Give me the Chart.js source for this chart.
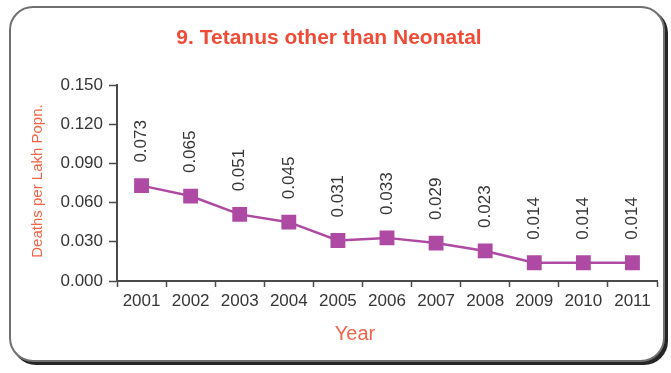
<!DOCTYPE html>
<html>
<head>
<meta charset="utf-8">
<script src="https://cdn.jsdelivr.net/npm/chart.js@4/dist/chart.umd.min.js"></script>
<style>
  html, body { margin: 0; padding: 0; background: #ffffff; }
  #wrap { position: relative; width: 671px; height: 373px; overflow: hidden; }
  #frame {
    position: absolute; left: 9px; top: 6px; width: 652px; height: 352px;
    border: 2px solid #707070; border-radius: 24px;
    box-shadow: 3px 3px 0 #262626;
    background: #ffffff;
  }
  canvas { position: absolute; left: 0; top: 0; }
</style>
</head>
<body>
<div id="wrap">
  <div id="frame"></div>
  <canvas id="c" width="671" height="373"></canvas>
</div>
<script>
// Tetanus (other than neonatal) death rate by year
const years = ['2001','2002','2003','2004','2005','2006','2007','2008','2009','2010','2011'];
const deathRates = [0.073, 0.065, 0.051, 0.045, 0.031, 0.033, 0.029, 0.023, 0.014, 0.014, 0.014];
const yTicks = [0.000, 0.030, 0.060, 0.090, 0.120, 0.150];

const titleText = '9. Tetanus other than Neonatal';
const xTitleText = 'Year';
const yTitleText = 'Deaths per Lakh Popn.';

const FONT = 'Arial, "Liberation Sans", sans-serif';
const titleRed = '#ef4b36';
const axisOrange = '#f26448';
const markColor = '#ae4aa4';
const textColor = '#363636';
const axisColor = '#4a4a4a';

// Chart title, axis titles and the vertical value labels
const annotations = {
  id: 'annotations',
  afterDatasetsDraw(chart) {
    const ctx = chart.ctx;
    const area = chart.chartArea;
    ctx.save();

    // title
    ctx.fillStyle = titleRed;
    ctx.font = 'bold 21px ' + FONT;
    ctx.textAlign = 'center';
    ctx.textBaseline = 'middle';
    ctx.fillText(titleText, 329, 38);

    // x axis title
    ctx.fillStyle = axisOrange;
    ctx.font = '20px ' + FONT;
    ctx.fillText(xTitleText, 355, 334);

    // y axis title
    ctx.save();
    ctx.translate(38, 181);
    ctx.rotate(-Math.PI / 2);
    ctx.font = '15px ' + FONT;
    ctx.fillText(yTitleText, 0, 0);
    ctx.restore();

    // value labels, rotated, above each marker
    const meta = chart.getDatasetMeta(0);
    ctx.fillStyle = textColor;
    ctx.font = '17px ' + FONT;
    ctx.textAlign = 'left';
    meta.data.forEach((pt, i) => {
      ctx.save();
      ctx.translate(pt.x, pt.y - 23);
      ctx.rotate(-Math.PI / 2);
      ctx.fillText(deathRates[i].toFixed(3), 0, 0);
      ctx.restore();
    });

    ctx.restore();
  }
};

new Chart(document.getElementById('c'), {
  type: 'line',
  data: {
    labels: years,
    datasets: [{
      data: deathRates,
      borderColor: markColor,
      backgroundColor: markColor,
      borderWidth: 2.5,
      pointStyle: 'rect',
      pointRadius: 10.5,
      pointHoverRadius: 10.5,
      pointBorderWidth: 0,
      tension: 0
    }]
  },
  options: {
    responsive: false,
    animation: false,
    events: [],
    layout: { padding: { top: 85, right: 14, bottom: 0, left: 0 } },
    plugins: {
      legend: { display: false },
      tooltip: { enabled: false },
      title: { display: false }
    },
    scales: {
      x: {
        offset: true,
        afterFit(scale) { scale.height = 92; },
        grid: {
          offset: true,
          drawOnChartArea: false,
          drawTicks: true,
          tickLength: 6,
          color: axisColor,
          tickWidth: 1.5
        },
        border: { display: true, color: axisColor, width: 2 },
        ticks: {
          color: textColor,
          font: { family: FONT, size: 17 },
          padding: 4,
          maxRotation: 0,
          autoSkip: false
        }
      },
      y: {
        min: 0,
        max: 0.15,
        afterFit(scale) { scale.width = 117; },
        afterBuildTicks(scale) { scale.ticks = yTicks.map(v => ({ value: v })); },
        grid: {
          drawOnChartArea: false,
          drawTicks: true,
          tickLength: 8,
          color: axisColor,
          tickWidth: 1.5
        },
        border: { display: true, color: axisColor, width: 2 },
        ticks: {
          color: textColor,
          font: { family: FONT, size: 17 },
          padding: 6,
          callback: v => Number(v).toFixed(3)
        }
      }
    }
  },
  plugins: [annotations]
});
</script>
</body>
</html>
